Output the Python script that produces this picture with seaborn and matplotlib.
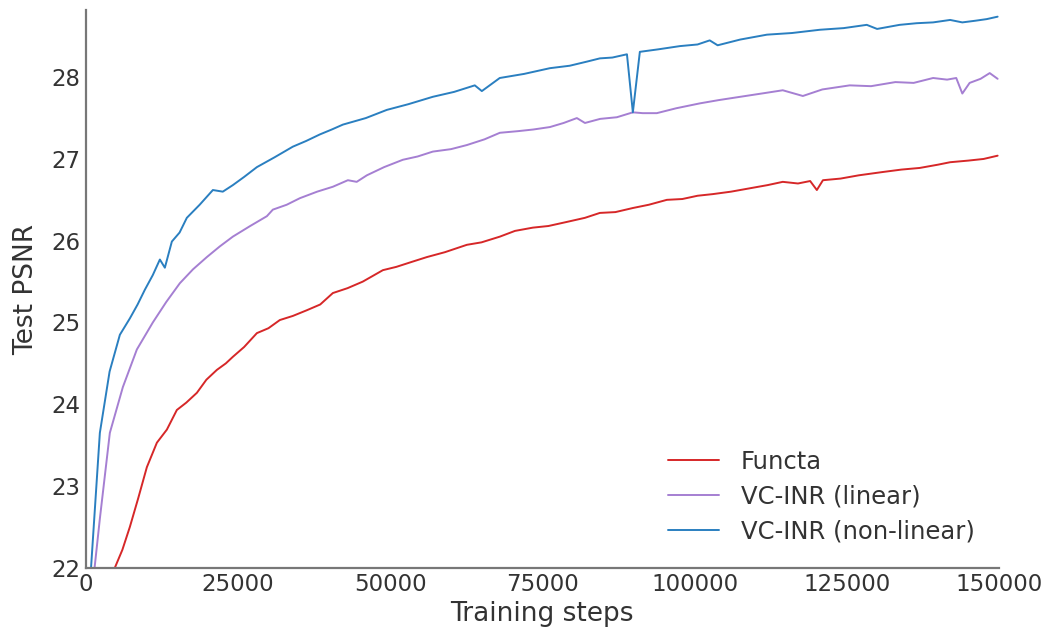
# psnr_curves.py
# Test PSNR vs training steps for Functa / VC-INR

import numpy as np
import pandas as pd
import seaborn as sns
import matplotlib
matplotlib.use("Agg")
import matplotlib.pyplot as plt

# ---- data ----
functa_steps = [4000, 4760, 6000, 7230, 8600, 10020, 11670, 13310, 14950, 16500, 18240,
                19800, 21520, 23000, 24150, 26000, 28100, 30000, 31870, 34000, 36310,
                38500, 40580, 43000, 45500, 48800, 51000, 53500, 56030, 59000, 62600,
                65000, 68020, 70500, 73440, 76000, 79030, 82000, 84450, 87000, 89870,
                92500, 95460, 98000, 100500, 103000, 106000, 109000, 112000, 114500,
                117000, 119000, 120100, 121100, 124000, 127000, 130900, 134000, 137000,
                140000, 142000, 145000, 147500, 149800]
functa_psnr = [21.85, 22.00, 22.22, 22.50, 22.85, 23.23, 23.53, 23.69, 23.93, 24.02, 24.14,
               24.30, 24.42, 24.50, 24.58, 24.70, 24.87, 24.93, 25.03, 25.08, 25.15,
               25.22, 25.36, 25.42, 25.50, 25.64, 25.68, 25.74, 25.80, 25.86, 25.95,
               25.98, 26.05, 26.12, 26.16, 26.18, 26.23, 26.28, 26.34, 26.35, 26.40,
               26.44, 26.50, 26.51, 26.55, 26.57, 26.60, 26.64, 26.68, 26.72,
               26.70, 26.73, 26.62, 26.74, 26.76, 26.80, 26.84, 26.87, 26.89,
               26.93, 26.96, 26.98, 27.00, 27.04]

linear_steps = [1000, 2300, 3940, 6080, 8380, 11000, 13200, 15440, 17600, 19880, 22000,
                24150, 27000, 29740, 30720, 33000, 35160, 38000, 40580, 43050, 44500,
                46170, 49000, 52080, 54500, 57010, 60000, 62600, 65500, 68020, 71000,
                73500, 76240, 78500, 80670, 82000, 84500, 87240, 89870, 91500, 93800,
                97000, 100900, 104000, 107500, 111900, 114500, 117800, 121000, 125500,
                129000, 133000, 136000, 139200, 141500, 143000, 144000, 145200, 147000,
                148500, 149800]
linear_psnr = [21.70, 22.60, 23.65, 24.21, 24.67, 25.00, 25.25, 25.48, 25.65, 25.80, 25.93,
               26.05, 26.18, 26.30, 26.38, 26.44, 26.52, 26.60, 26.66, 26.74, 26.72,
               26.80, 26.90, 26.99, 27.03, 27.09, 27.12, 27.17, 27.24, 27.32, 27.34,
               27.36, 27.39, 27.44, 27.50, 27.44, 27.49, 27.51, 27.57, 27.56, 27.56,
               27.62, 27.68, 27.72, 27.76, 27.81, 27.84, 27.77, 27.85, 27.90,
               27.89, 27.94, 27.93, 27.99, 27.97, 27.99, 27.80, 27.93, 27.98,
               28.05, 27.98]

nonlinear_steps = [500, 2300, 3900, 5590, 7230, 8500, 9690, 11000, 12160, 12980, 14130,
                   15400, 16590, 18700, 20870, 22500, 24150, 26000, 28100, 31000, 34000,
                   36200, 38450, 40400, 42230, 46000, 49450, 53000, 57000, 60500, 63900,
                   65060, 68000, 72000, 76240, 79500, 82300, 84450, 86500, 88900, 89870,
                   91020, 94000, 97600, 100500, 102500, 103800, 107500, 111900, 116000,
                   120600, 124500, 128300, 130000, 133700, 136500, 139200, 142000, 144000,
                   146100, 148000, 149800]
nonlinear_psnr = [21.60, 23.65, 24.40, 24.85, 25.05, 25.22, 25.40, 25.58, 25.77, 25.67, 25.99,
                  26.10, 26.28, 26.44, 26.62, 26.60, 26.68, 26.78, 26.90, 27.02, 27.15,
                  27.22, 27.30, 27.36, 27.42, 27.50, 27.60, 27.67, 27.76, 27.82, 27.90,
                  27.83, 27.99, 28.04, 28.11, 28.14, 28.19, 28.23, 28.24, 28.28, 27.57,
                  28.31, 28.34, 28.38, 28.40, 28.45, 28.39, 28.46, 28.52, 28.54,
                  28.58, 28.60, 28.64, 28.59, 28.64, 28.66, 28.67, 28.70, 28.67,
                  28.69, 28.71, 28.74]

method_names = ["Functa", "VC-INR (linear)", "VC-INR (non-linear)"]
line_colors = ["#d62728", "#a57fd2", "#2a7fc0"]

df = pd.concat([
    pd.DataFrame({"step": functa_steps, "psnr": functa_psnr, "method": method_names[0]}),
    pd.DataFrame({"step": linear_steps, "psnr": linear_psnr, "method": method_names[1]}),
    pd.DataFrame({"step": nonlinear_steps, "psnr": nonlinear_psnr, "method": method_names[2]}),
])

# ---- plot ----
sns.set_style("white")
plt.rcParams["font.family"] = ["DejaVu Sans"]

fig = plt.figure(figsize=(10.47, 6.33), dpi=100)
ax = fig.add_axes([0.082, 0.103, 0.872, 0.881])

sns.lineplot(data=df, x="step", y="psnr", hue="method", hue_order=method_names,
             palette=line_colors, linewidth=1.4, ax=ax, sort=False)

ax.set_xlim(0, 150000)
ax.set_ylim(22, 28.82)
ax.set_xticks([0, 25000, 50000, 75000, 100000, 125000, 150000])
ax.set_yticks([22, 23, 24, 25, 26, 27, 28])
ax.tick_params(axis="both", length=0, labelsize=16.5, colors="#333333", pad=4)
ax.set_xlabel("Training steps", fontsize=19, color="#333333", labelpad=3)
ax.set_ylabel("Test PSNR", fontsize=19, color="#333333", labelpad=9)

for side in ["top", "right"]:
    ax.spines[side].set_visible(False)
for side in ["left", "bottom"]:
    ax.spines[side].set_color("#777777")
    ax.spines[side].set_linewidth(1.6)

leg = ax.legend(loc="lower right", frameon=False, fontsize=17.5, handlelength=2.1,
                handletextpad=0.9, borderaxespad=0.6, labelspacing=0.45)
for t in leg.get_texts():
    t.set_color("#333333")

fig.savefig("out.png", dpi=100)
